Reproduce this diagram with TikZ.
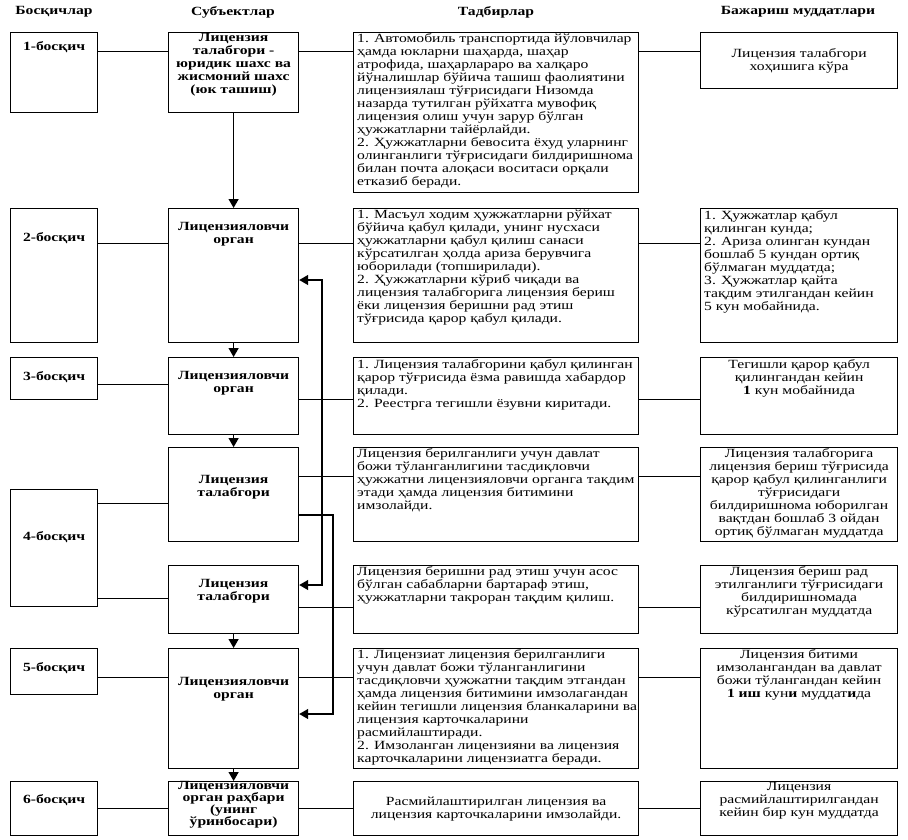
\documentclass[tikz,border=0pt]{standalone}
\usepackage{fontspec}
\setmainfont{Liberation Serif}[FakeStretch=1.25]
\usetikzlibrary{arrows.meta,positioning}

\begin{document}
\begin{tikzpicture}[x=1pt, y=1pt,
    frame/.style={draw, line width=1.2pt, inner sep=0pt, anchor=north west},
    txt/.style={inner sep=0pt, align=left, font=\fontsize{12.5}{13}\selectfont},
    ctxt/.style={txt, align=center},
    btxt/.style={ctxt, font=\fontsize{12.5}{13}\selectfont\bfseries},
    link/.style={line width=0.8pt},
    arr/.style={line width=1.3pt, -{Triangle[length=9pt,width=10pt]}},
    arrboth/.style={line width=1.3pt, {Triangle[length=9pt,width=10pt]}-{Triangle[length=9pt,width=10pt]}}]

    \useasboundingbox (0,0) rectangle (908,-839);

    % Заголовки столбцов
    \foreach \x/\t [count=\i] in {54/Босқичлар, 233/Субъектлар, 496/Тадбирлар, 798/Бажариш муддатлари}
        \node[btxt] (head\i) at (\x,-12) {\t};

    % Этапы
    \foreach \n/\y/\h/\d in {1/32/80/9pt, 2/208/134/24pt, 3/357/42/14pt, 4/489/117/42pt, 5/648/46/14pt, 6/781/54/13pt}
    {
        \node[frame, minimum width=87, minimum height=\h] (st\n) at (10,-\y) {};
        \node[btxt, below=\d of st\n.north] (stl\n) {\n-босқич};
    }

    % Рамки: субъекты, мероприятия, сроки
    \node[frame, minimum width=130, minimum height=80] (su1) at (168,-32) {};
    \node[frame, minimum width=285, minimum height=160] (ac1) at (353,-32) {};
    \node[frame, minimum width=197, minimum height=56] (de1) at (700,-32) {};
    \foreach \r/\y/\h in {2/208/134, 3/357/77, 4a/447/94, 4b/565/68, 5/648/120, 6/781/54}
    {
        \node[frame, minimum width=130, minimum height=\h] (su\r) at (168,-\y) {};
        \node[frame, minimum width=285, minimum height=\h] (ac\r) at (353,-\y) {};
        \node[frame, minimum width=197, minimum height=\h] (de\r) at (700,-\y) {};
    }

    % Субъекты
    \node[btxt, below=1pt of su1.north] (sut1) {Лицензия\\талабгори -\\юридик шахс ва\\жисмоний шахс\\(юк ташиш)};
    \node[btxt, below=14pt of su2.north] (sut2) {Лицензияловчи\\орган};
    \node[btxt, below=14pt of su3.north] (sut3) {Лицензияловчи\\орган};
    \node[btxt, below=28pt of su4a.north] (sut4a) {Лицензия\\талабгори};
    \node[btxt, below=14pt of su4b.north] (sut4b) {Лицензия\\талабгори};
    \node[btxt, below=29pt of su5.north] (sut5) {Лицензияловчи\\орган};
    \node[btxt, font=\fontsize{12.5}{12}\selectfont\bfseries, below=0pt of su6.north] (sut6) {Лицензияловчи\\орган раҳбари\\(унинг\\ўринбосари)};

    % Мероприятия
    \node[txt, below right=1pt and 4pt of ac1.north west] (act1) {1. Автомобиль транспортида йўловчилар\\
        ҳамда юкларни шаҳарда, шаҳар\\
        атрофида, шаҳарлараро ва халқаро\\
        йўналишлар бўйича ташиш фаолиятини\\
        лицензиялаш тўғрисидаги Низомда\\
        назарда тутилган рўйхатга мувофиқ\\
        лицензия олиш учун зарур бўлган\\
        ҳужжатларни тайёрлайди.\\
        2. Ҳужжатларни бевосита ёхуд уларнинг\\
        олинганлиги тўғрисидаги билдиришнома\\
        билан почта алоқаси воситаси орқали\\
        етказиб беради.};
    \node[txt, below right=2pt and 4pt of ac2.north west] (act2) {1. Масъул ходим ҳужжатларни рўйхат\\
        бўйича қабул қилади, унинг нусхаси\\
        ҳужжатларни қабул қилиш санаси\\
        кўрсатилган ҳолда ариза берувчига\\
        юборилади (топширилади).\\
        2. Ҳужжатларни кўриб чиқади ва\\
        лицензия талабгорига лицензия бериш\\
        ёки лицензия беришни рад этиш\\
        тўғрисида қарор қабул қилади.};
    \node[txt, below right=2pt and 4pt of ac3.north west] (act3) {1. Лицензия талабгорини қабул қилинган\\
        қарор тўғрисида ёзма равишда хабардор\\
        қилади.\\
        2. Реестрга тегишли ёзувни киритади.};
    \node[txt, below right=1pt and 4pt of ac4a.north west] (act4a) {Лицензия берилганлиги учун давлат\\
        божи тўланганлигини тасдиқловчи\\
        ҳужжатни лицензияловчи органга тақдим\\
        этади ҳамда лицензия битимини\\
        имзолайди.};
    \node[txt, below right=1pt and 4pt of ac4b.north west] (act4b) {Лицензия беришни рад этиш учун асос\\
        бўлган сабабларни бартараф этиш,\\
        ҳужжатларни такроран тақдим қилиш.};
    \node[txt, below right=1pt and 4pt of ac5.north west] (act5) {1. Лицензиат лицензия берилганлиги\\
        учун давлат божи тўланганлигини\\
        тасдиқловчи ҳужжатни тақдим этгандан\\
        ҳамда лицензия битимини имзолагандан\\
        кейин тегишли лицензия бланкаларини ва\\
        лицензия карточкаларини\\
        расмийлаштиради.\\
        2. Имзоланган лицензияни ва лицензия\\
        карточкаларини лицензиатга беради.};
    \node[ctxt] (act6) at (ac6.center) {Расмийлаштирилган лицензия ва\\лицензия карточкаларини имзолайди.};

    % Сроки
    \node[ctxt] (det1) at (de1.center) {Лицензия талабгори\\хоҳишига кўра};
    \node[txt, below right=2pt and 4pt of de2.north west] (det2) {1. Ҳужжатлар қабул\\
        қилинган кунда;\\
        2. Ариза олинган кундан\\
        бошлаб 5 кундан ортиқ\\
        бўлмаган муддатда;\\
        3. Ҳужжатлар қайта\\
        тақдим этилгандан кейин\\
        5 кун мобайнида.};
    \node[ctxt, below=2pt of de3.north] (det3) {Тегишли қарор қабул\\қилингандан кейин\\\textbf{1} кун мобайнида};
    \node[ctxt, below=1pt of de4a.north] (det4a) {Лицензия талабгорига\\лицензия бериш тўғрисида\\қарор қабул қилинганлиги\\тўғрисидаги\\билдиришнома юборилган\\вақтдан бошлаб 3 ойдан\\ортиқ бўлмаган муддатда};
    \node[ctxt, below=1pt of de4b.north] (det4b) {Лицензия бериш рад\\этилганлиги тўғрисидаги\\билдиришномада\\кўрсатилган муддатда};
    \node[ctxt, below=1pt of de5.north] (det5) {Лицензия битими\\имзолангандан ва давлат\\божи тўлангандан кейин\\\textbf{1 иш} кун\textbf{и} муддат\textbf{и}да};
    \node[ctxt, below=1pt of de6.north] (det6) {Лицензия\\расмийлаштирилгандан\\кейин бир кун муддатда};

    % Уровни горизонтальных связей
    \coordinate (r1) at (0,-51);
    \coordinate (r2) at (0,-243);
    \coordinate (r3s) at (0,-384);
    \coordinate (r3) at (0,-399);
    \coordinate (r4as) at (0,-503);
    \coordinate (r4a) at (0,-476);
    \coordinate (r4bs) at (0,-598);
    \coordinate (r4b) at (0,-607);
    \coordinate (r5) at (0,-677);
    \coordinate (r6) at (0,-808);

    % Связи
    \foreach \r in {1,2,3,4a,4b,5,6}
    {
        \draw[link] (su\r.east |- r\r) -- (ac\r.west |- r\r);
        \draw[link] (ac\r.east |- r\r) -- (de\r.west |- r\r);
    }
    \draw[link] (st1.east |- r1) -- (su1.west |- r1);
    \draw[link] (st2.east |- r2) -- (su2.west |- r2);
    \draw[link] (st3.east |- r3s) -- (su3.west |- r3s);
    \draw[link] (st4.east |- r4as) -- (su4a.west |- r4as);
    \draw[link] (st4.east |- r4bs) -- (su4b.west |- r4bs);
    \draw[link] (st5.east |- r5) -- (su5.west |- r5);
    \draw[link] (st6.east |- r6) -- (su6.west |- r6);

    % Стрелки
    \draw[arr] (su1) -- (su2);
    \draw[arr] (su2) -- (su3);
    \draw[arr] (su3) -- (su4a);
    \draw[arr] (su4b) -- (su5);
    \draw[arr] (su5) -- (su6);

    % Обратные связи
    \coordinate (fb1) at (322,-280);
    \coordinate (fb2) at (322,-585);
    \coordinate (fb3) at (333,-515);
    \coordinate (fb4) at (333,-714);
    \draw[arrboth] (su2.east |- fb1) -- (fb1) -- (fb2) -- (su4b.east |- fb2);
    \draw[arr] (su4a.east |- fb3) -- (fb3) -- (fb4) -- (su5.east |- fb4);
\end{tikzpicture}
\end{document}
